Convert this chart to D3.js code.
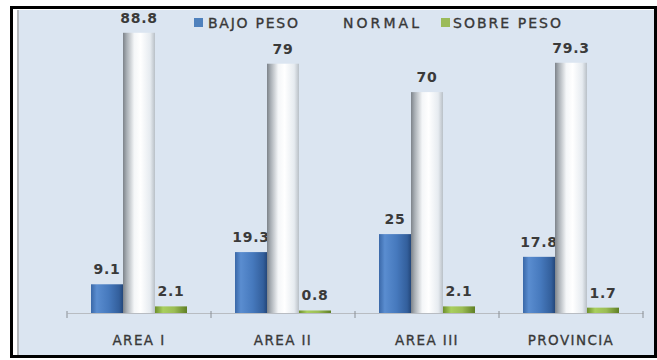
<!DOCTYPE html>
<html>
<head>
<meta charset="utf-8">
<script src="https://cdn.jsdelivr.net/npm/d3@7"></script>
<style>
  html, body { margin: 0; padding: 0; background: #ffffff; }
  svg { display: block; }
</style>
</head>
<body>
<script>
// Nutritional status by area (percent)
const categories = ["AREA I", "AREA II", "AREA III", "PROVINCIA"];
const seriesNames = ["BAJO PESO", "NORMAL", "SOBRE PESO"];
const bajoPeso = [9.1, 19.3, 25, 17.8];
const normal = [88.8, 79, 70, 79.3];
const sobrePeso = [2.1, 0.8, 2.1, 1.7];
const valueLabels = [
  ["9.1", "19.3", "25", "17.8"],
  ["88.8", "79", "70", "79.3"],
  ["2.1", "0.8", "2.1", "1.7"]
];

const W = 657, H = 360;
const svg = d3.select("body").append("svg").attr("width", W).attr("height", H);

// gradients for the cylinder-like bars
const defs = svg.append("defs");
function grad(id, stops) {
  const g = defs.append("linearGradient").attr("id", id)
    .attr("x1", "0%").attr("x2", "100%").attr("y1", "0%").attr("y2", "0%");
  stops.forEach(s => g.append("stop").attr("offset", s[0]).attr("stop-color", s[1]));
}
grad("gBlue", [["0%", "#3a68a8"], ["18%", "#5a8dd0"], ["55%", "#4679bd"], ["88%", "#335f9c"], ["100%", "#24477a"]]);
grad("gWhite", [["0%", "#7d838a"], ["12%", "#aab0b6"], ["35%", "#f4f6f8"], ["55%", "#ffffff"], ["85%", "#e6ebf0"], ["100%", "#b9c0c7"]]);
grad("gGreen", [["0%", "#6d8f2c"], ["25%", "#a9cf5e"], ["60%", "#9bbd55"], ["100%", "#5f7f25"]]);
const fills = ["url(#gBlue)", "url(#gWhite)", "url(#gGreen)"];
const legendColors = ["#4f81bd", null, "#9bbb59"];

// frame and plot background
svg.append("rect").attr("x", 11.5).attr("y", 7.5).attr("width", 644).attr("height", 349)
  .attr("fill", "#ffffff").attr("stroke", "#000000").attr("stroke-width", 3);
svg.append("rect").attr("x", 17).attr("y", 10).attr("width", 637).attr("height", 345)
  .attr("fill", "#dbe5f1");
svg.append("line").attr("x1", 18).attr("x2", 18).attr("y1", 10).attr("y2", 355)
  .attr("stroke", "#b4b8bc").attr("stroke-width", 2);

// scales
const x = d3.scaleBand().domain(categories).range([67, 643]).paddingInner(0).paddingOuter(0);
const xs = d3.scaleBand().domain(seriesNames).range([24, 120]).padding(0);
const y = d3.scaleLinear().domain([0, 90]).range([313, 29]);

const seriesData = [bajoPeso, normal, sobrePeso];

// category axis
const axis = d3.axisBottom(x).tickSize(0).tickFormat(d => d);
const gAxis = svg.append("g").attr("transform", `translate(0,${y(0)})`).call(axis);
gAxis.select(".domain").attr("stroke", "#b8bcc2").attr("stroke-width", 1);
gAxis.selectAll(".tick text")
  .attr("dy", 0).attr("y", 32)
  .attr("fill", "#383838")
  .attr("stroke", "#383838").attr("stroke-width", 0.3)
  .attr("font-family", "'DejaVu Sans', sans-serif")
  .attr("font-size", 13.5)
  .attr("letter-spacing", 1.4);
// tick marks at category boundaries
const bounds = categories.map(c => x(c)).concat([x(categories[categories.length - 1]) + x.bandwidth()]);
svg.append("g").selectAll("line").data(bounds).join("line")
  .attr("x1", d => d).attr("x2", d => d)
  .attr("y1", y(0) - 2).attr("y2", y(0) + 5)
  .attr("stroke", "#8a8f95").attr("stroke-width", 1);

// bars
seriesNames.forEach((s, si) => {
  const g = svg.append("g");
  g.selectAll("rect").data(categories).join("rect")
    .attr("x", c => x(c) + xs(s))
    .attr("width", xs.bandwidth())
    .attr("y", (c, i) => y(seriesData[si][i]))
    .attr("height", (c, i) => y(0) - y(seriesData[si][i]))
    .attr("fill", fills[si]);
  g.selectAll("text").data(categories).join("text")
    .attr("x", c => x(c) + xs(s) + xs.bandwidth() / 2)
    .attr("y", (c, i) => y(seriesData[si][i]) - 10)
    .attr("text-anchor", "middle")
    .attr("fill", "#3a3a3a")
    .attr("font-family", "'DejaVu Sans', sans-serif")
    .attr("font-weight", "bold")
    .attr("font-size", 14)
    .attr("letter-spacing", 0.8)
    .text((c, i) => valueLabels[si][i]);
});

// legend
const legendItems = [
  { name: seriesNames[0], sx: 194, tx: 208, len: 90 },
  { name: seriesNames[1], sx: null, tx: 343, len: 76 },
  { name: seriesNames[2], sx: 441, tx: 453, len: 108 }
];
const gLeg = svg.append("g");
legendItems.forEach((d, i) => {
  if (legendColors[i]) {
    gLeg.append("rect").attr("x", d.sx).attr("y", 18).attr("width", 9).attr("height", 9)
      .attr("fill", legendColors[i]);
  }
  gLeg.append("text").attr("x", d.tx).attr("y", 28)
    .attr("fill", "#383838")
    .attr("stroke", "#383838").attr("stroke-width", 0.35)
    .attr("font-family", "'DejaVu Sans', sans-serif")
    .attr("font-size", 14)
    .attr("textLength", d.len).attr("lengthAdjust", "spacing")
    .text(d.name);
});
</script>
</body>
</html>
